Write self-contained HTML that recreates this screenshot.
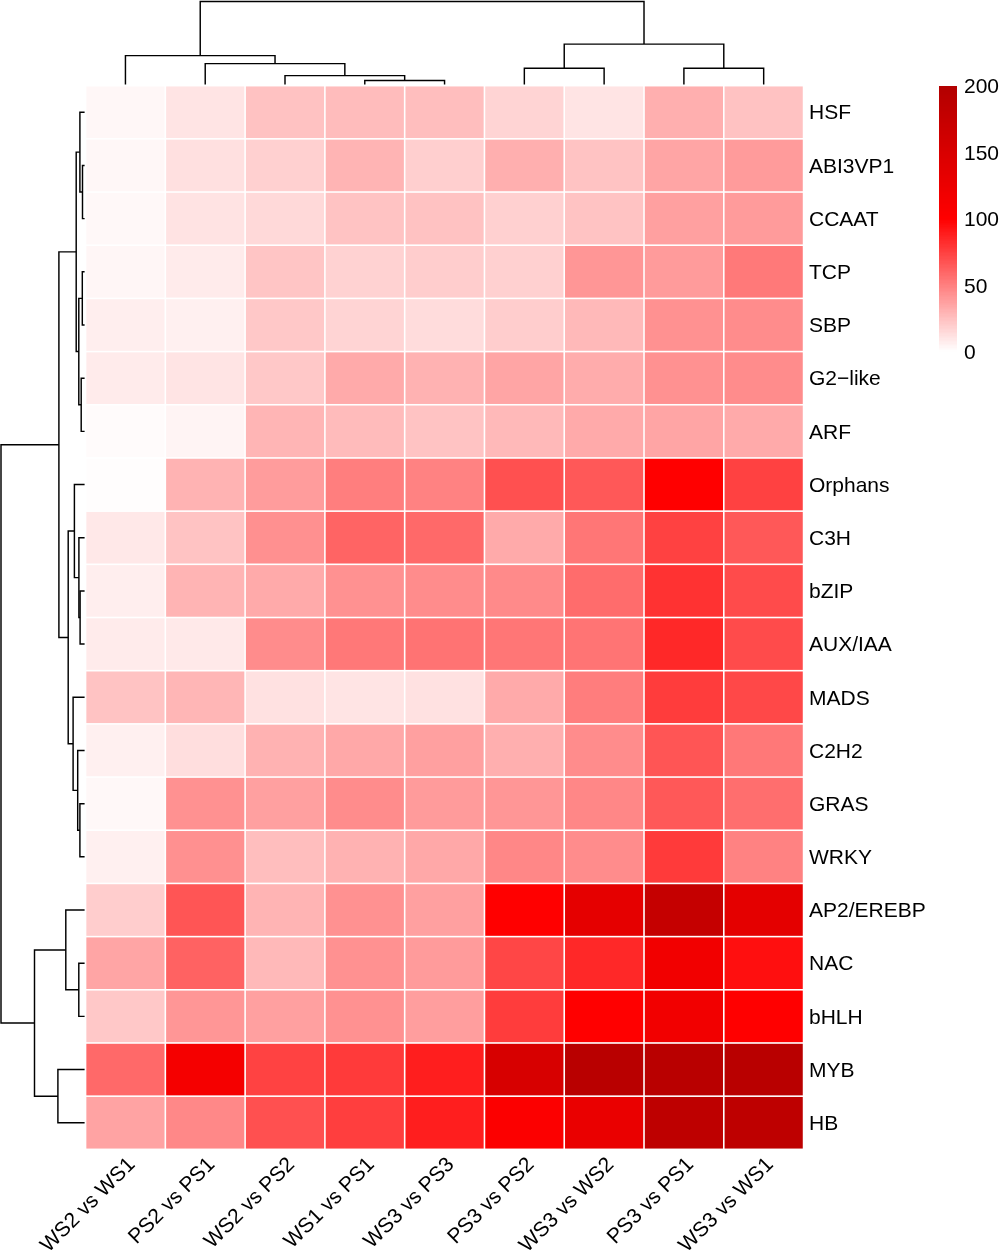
<!DOCTYPE html>
<html><head><meta charset="utf-8"><style>
html,body{margin:0;padding:0;background:#fff;}
svg{display:block;will-change:transform;}
text{font-family:"Liberation Sans",sans-serif;font-size:21px;fill:#000;}
</style></head><body>
<svg width="999" height="1251" viewBox="0 0 999 1251">
<g>
<rect x="86.35" y="86.45" width="78.18" height="51.59" fill="#fff7f7"/>
<rect x="166.13" y="86.45" width="78.18" height="51.59" fill="#ffe4e4"/>
<rect x="245.91" y="86.45" width="78.18" height="51.59" fill="#ffc2c2"/>
<rect x="325.69" y="86.45" width="78.18" height="51.59" fill="#ffbcbc"/>
<rect x="405.47" y="86.45" width="78.18" height="51.59" fill="#ffbebe"/>
<rect x="485.25" y="86.45" width="78.18" height="51.59" fill="#ffd4d4"/>
<rect x="565.03" y="86.45" width="78.18" height="51.59" fill="#ffe4e4"/>
<rect x="644.81" y="86.45" width="78.18" height="51.59" fill="#ffafaf"/>
<rect x="724.59" y="86.45" width="78.18" height="51.59" fill="#ffc2c2"/>
<rect x="86.35" y="139.64" width="78.18" height="51.59" fill="#fff7f7"/>
<rect x="166.13" y="139.64" width="78.18" height="51.59" fill="#ffe0e0"/>
<rect x="245.91" y="139.64" width="78.18" height="51.59" fill="#ffd0d0"/>
<rect x="325.69" y="139.64" width="78.18" height="51.59" fill="#ffb4b4"/>
<rect x="405.47" y="139.64" width="78.18" height="51.59" fill="#ffcfcf"/>
<rect x="485.25" y="139.64" width="78.18" height="51.59" fill="#ffafaf"/>
<rect x="565.03" y="139.64" width="78.18" height="51.59" fill="#ffc3c3"/>
<rect x="644.81" y="139.64" width="78.18" height="51.59" fill="#ffa5a5"/>
<rect x="724.59" y="139.64" width="78.18" height="51.59" fill="#ff9b9b"/>
<rect x="86.35" y="192.82" width="78.18" height="51.59" fill="#fff8f8"/>
<rect x="166.13" y="192.82" width="78.18" height="51.59" fill="#ffe3e3"/>
<rect x="245.91" y="192.82" width="78.18" height="51.59" fill="#ffd9d9"/>
<rect x="325.69" y="192.82" width="78.18" height="51.59" fill="#ffc3c3"/>
<rect x="405.47" y="192.82" width="78.18" height="51.59" fill="#ffc2c2"/>
<rect x="485.25" y="192.82" width="78.18" height="51.59" fill="#ffd0d0"/>
<rect x="565.03" y="192.82" width="78.18" height="51.59" fill="#ffc3c3"/>
<rect x="644.81" y="192.82" width="78.18" height="51.59" fill="#ffa0a0"/>
<rect x="724.59" y="192.82" width="78.18" height="51.59" fill="#ff9b9b"/>
<rect x="86.35" y="246.01" width="78.18" height="51.59" fill="#fff6f6"/>
<rect x="166.13" y="246.01" width="78.18" height="51.59" fill="#ffebeb"/>
<rect x="245.91" y="246.01" width="78.18" height="51.59" fill="#ffc5c5"/>
<rect x="325.69" y="246.01" width="78.18" height="51.59" fill="#ffd2d2"/>
<rect x="405.47" y="246.01" width="78.18" height="51.59" fill="#ffcdcd"/>
<rect x="485.25" y="246.01" width="78.18" height="51.59" fill="#ffd0d0"/>
<rect x="565.03" y="246.01" width="78.18" height="51.59" fill="#ff9696"/>
<rect x="644.81" y="246.01" width="78.18" height="51.59" fill="#ff9b9b"/>
<rect x="724.59" y="246.01" width="78.18" height="51.59" fill="#ff7979"/>
<rect x="86.35" y="299.19" width="78.18" height="51.59" fill="#ffeeee"/>
<rect x="166.13" y="299.19" width="78.18" height="51.59" fill="#fff0f0"/>
<rect x="245.91" y="299.19" width="78.18" height="51.59" fill="#ffc8c8"/>
<rect x="325.69" y="299.19" width="78.18" height="51.59" fill="#ffd4d4"/>
<rect x="405.47" y="299.19" width="78.18" height="51.59" fill="#ffdcdc"/>
<rect x="485.25" y="299.19" width="78.18" height="51.59" fill="#ffcdcd"/>
<rect x="565.03" y="299.19" width="78.18" height="51.59" fill="#ffb9b9"/>
<rect x="644.81" y="299.19" width="78.18" height="51.59" fill="#ff9191"/>
<rect x="724.59" y="299.19" width="78.18" height="51.59" fill="#ff8c8c"/>
<rect x="86.35" y="352.38" width="78.18" height="51.59" fill="#ffebeb"/>
<rect x="166.13" y="352.38" width="78.18" height="51.59" fill="#ffe4e4"/>
<rect x="245.91" y="352.38" width="78.18" height="51.59" fill="#ffc8c8"/>
<rect x="325.69" y="352.38" width="78.18" height="51.59" fill="#ffaaaa"/>
<rect x="405.47" y="352.38" width="78.18" height="51.59" fill="#ffb2b2"/>
<rect x="485.25" y="352.38" width="78.18" height="51.59" fill="#ffa5a5"/>
<rect x="565.03" y="352.38" width="78.18" height="51.59" fill="#ffacac"/>
<rect x="644.81" y="352.38" width="78.18" height="51.59" fill="#ff9191"/>
<rect x="724.59" y="352.38" width="78.18" height="51.59" fill="#ff8c8c"/>
<rect x="86.35" y="405.56" width="78.18" height="51.59" fill="#fffbfb"/>
<rect x="166.13" y="405.56" width="78.18" height="51.59" fill="#fff4f4"/>
<rect x="245.91" y="405.56" width="78.18" height="51.59" fill="#ffb5b5"/>
<rect x="325.69" y="405.56" width="78.18" height="51.59" fill="#ffbbbb"/>
<rect x="405.47" y="405.56" width="78.18" height="51.59" fill="#ffc3c3"/>
<rect x="485.25" y="405.56" width="78.18" height="51.59" fill="#ffb9b9"/>
<rect x="565.03" y="405.56" width="78.18" height="51.59" fill="#ffaaaa"/>
<rect x="644.81" y="405.56" width="78.18" height="51.59" fill="#ffa5a5"/>
<rect x="724.59" y="405.56" width="78.18" height="51.59" fill="#ffaaaa"/>
<rect x="86.35" y="458.75" width="78.18" height="51.59" fill="#fffdfd"/>
<rect x="166.13" y="458.75" width="78.18" height="51.59" fill="#ffb3b3"/>
<rect x="245.91" y="458.75" width="78.18" height="51.59" fill="#ff9c9c"/>
<rect x="325.69" y="458.75" width="78.18" height="51.59" fill="#ff7e7e"/>
<rect x="405.47" y="458.75" width="78.18" height="51.59" fill="#ff8282"/>
<rect x="485.25" y="458.75" width="78.18" height="51.59" fill="#ff5050"/>
<rect x="565.03" y="458.75" width="78.18" height="51.59" fill="#ff5858"/>
<rect x="644.81" y="458.75" width="78.18" height="51.59" fill="#ff0000"/>
<rect x="724.59" y="458.75" width="78.18" height="51.59" fill="#ff4141"/>
<rect x="86.35" y="511.93" width="78.18" height="51.59" fill="#ffe8e8"/>
<rect x="166.13" y="511.93" width="78.18" height="51.59" fill="#ffc3c3"/>
<rect x="245.91" y="511.93" width="78.18" height="51.59" fill="#ff9090"/>
<rect x="325.69" y="511.93" width="78.18" height="51.59" fill="#ff6464"/>
<rect x="405.47" y="511.93" width="78.18" height="51.59" fill="#ff6969"/>
<rect x="485.25" y="511.93" width="78.18" height="51.59" fill="#ffaaaa"/>
<rect x="565.03" y="511.93" width="78.18" height="51.59" fill="#ff7676"/>
<rect x="644.81" y="511.93" width="78.18" height="51.59" fill="#ff4141"/>
<rect x="724.59" y="511.93" width="78.18" height="51.59" fill="#ff5858"/>
<rect x="86.35" y="565.12" width="78.18" height="51.59" fill="#ffeeee"/>
<rect x="166.13" y="565.12" width="78.18" height="51.59" fill="#ffb4b4"/>
<rect x="245.91" y="565.12" width="78.18" height="51.59" fill="#ffaaaa"/>
<rect x="325.69" y="565.12" width="78.18" height="51.59" fill="#ff9191"/>
<rect x="405.47" y="565.12" width="78.18" height="51.59" fill="#ff8c8c"/>
<rect x="485.25" y="565.12" width="78.18" height="51.59" fill="#ff8a8a"/>
<rect x="565.03" y="565.12" width="78.18" height="51.59" fill="#ff6c6c"/>
<rect x="644.81" y="565.12" width="78.18" height="51.59" fill="#ff3232"/>
<rect x="724.59" y="565.12" width="78.18" height="51.59" fill="#ff4b4b"/>
<rect x="86.35" y="618.30" width="78.18" height="51.59" fill="#ffebeb"/>
<rect x="166.13" y="618.30" width="78.18" height="51.59" fill="#ffe9e9"/>
<rect x="245.91" y="618.30" width="78.18" height="51.59" fill="#ff8c8c"/>
<rect x="325.69" y="618.30" width="78.18" height="51.59" fill="#ff7878"/>
<rect x="405.47" y="618.30" width="78.18" height="51.59" fill="#ff7373"/>
<rect x="485.25" y="618.30" width="78.18" height="51.59" fill="#ff7676"/>
<rect x="565.03" y="618.30" width="78.18" height="51.59" fill="#ff7474"/>
<rect x="644.81" y="618.30" width="78.18" height="51.59" fill="#ff2828"/>
<rect x="724.59" y="618.30" width="78.18" height="51.59" fill="#ff4b4b"/>
<rect x="86.35" y="671.49" width="78.18" height="51.59" fill="#ffc3c3"/>
<rect x="166.13" y="671.49" width="78.18" height="51.59" fill="#ffb6b6"/>
<rect x="245.91" y="671.49" width="78.18" height="51.59" fill="#ffe1e1"/>
<rect x="325.69" y="671.49" width="78.18" height="51.59" fill="#ffe4e4"/>
<rect x="405.47" y="671.49" width="78.18" height="51.59" fill="#ffe1e1"/>
<rect x="485.25" y="671.49" width="78.18" height="51.59" fill="#ffaaaa"/>
<rect x="565.03" y="671.49" width="78.18" height="51.59" fill="#ff7d7d"/>
<rect x="644.81" y="671.49" width="78.18" height="51.59" fill="#ff3c3c"/>
<rect x="724.59" y="671.49" width="78.18" height="51.59" fill="#ff4848"/>
<rect x="86.35" y="724.67" width="78.18" height="51.59" fill="#fff0f0"/>
<rect x="166.13" y="724.67" width="78.18" height="51.59" fill="#ffdede"/>
<rect x="245.91" y="724.67" width="78.18" height="51.59" fill="#ffb2b2"/>
<rect x="325.69" y="724.67" width="78.18" height="51.59" fill="#ffa8a8"/>
<rect x="405.47" y="724.67" width="78.18" height="51.59" fill="#ffa0a0"/>
<rect x="485.25" y="724.67" width="78.18" height="51.59" fill="#ffafaf"/>
<rect x="565.03" y="724.67" width="78.18" height="51.59" fill="#ff8c8c"/>
<rect x="644.81" y="724.67" width="78.18" height="51.59" fill="#ff5555"/>
<rect x="724.59" y="724.67" width="78.18" height="51.59" fill="#ff7878"/>
<rect x="86.35" y="777.85" width="78.18" height="51.59" fill="#fff8f8"/>
<rect x="166.13" y="777.85" width="78.18" height="51.59" fill="#ff9191"/>
<rect x="245.91" y="777.85" width="78.18" height="51.59" fill="#ffa0a0"/>
<rect x="325.69" y="777.85" width="78.18" height="51.59" fill="#ff8c8c"/>
<rect x="405.47" y="777.85" width="78.18" height="51.59" fill="#ff9b9b"/>
<rect x="485.25" y="777.85" width="78.18" height="51.59" fill="#ff9696"/>
<rect x="565.03" y="777.85" width="78.18" height="51.59" fill="#ff8787"/>
<rect x="644.81" y="777.85" width="78.18" height="51.59" fill="#ff5858"/>
<rect x="724.59" y="777.85" width="78.18" height="51.59" fill="#ff6e6e"/>
<rect x="86.35" y="831.04" width="78.18" height="51.59" fill="#fff0f0"/>
<rect x="166.13" y="831.04" width="78.18" height="51.59" fill="#ff9090"/>
<rect x="245.91" y="831.04" width="78.18" height="51.59" fill="#ffbebe"/>
<rect x="325.69" y="831.04" width="78.18" height="51.59" fill="#ffb2b2"/>
<rect x="405.47" y="831.04" width="78.18" height="51.59" fill="#ffa8a8"/>
<rect x="485.25" y="831.04" width="78.18" height="51.59" fill="#ff8787"/>
<rect x="565.03" y="831.04" width="78.18" height="51.59" fill="#ff8c8c"/>
<rect x="644.81" y="831.04" width="78.18" height="51.59" fill="#ff3a3a"/>
<rect x="724.59" y="831.04" width="78.18" height="51.59" fill="#ff8282"/>
<rect x="86.35" y="884.23" width="78.18" height="51.59" fill="#ffcdcd"/>
<rect x="166.13" y="884.23" width="78.18" height="51.59" fill="#ff5555"/>
<rect x="245.91" y="884.23" width="78.18" height="51.59" fill="#ffb4b4"/>
<rect x="325.69" y="884.23" width="78.18" height="51.59" fill="#ff9191"/>
<rect x="405.47" y="884.23" width="78.18" height="51.59" fill="#ffa0a0"/>
<rect x="485.25" y="884.23" width="78.18" height="51.59" fill="#ff0000"/>
<rect x="565.03" y="884.23" width="78.18" height="51.59" fill="#e50000"/>
<rect x="644.81" y="884.23" width="78.18" height="51.59" fill="#c50000"/>
<rect x="724.59" y="884.23" width="78.18" height="51.59" fill="#e40000"/>
<rect x="86.35" y="937.41" width="78.18" height="51.59" fill="#ffa5a5"/>
<rect x="166.13" y="937.41" width="78.18" height="51.59" fill="#ff6262"/>
<rect x="245.91" y="937.41" width="78.18" height="51.59" fill="#ffb9b9"/>
<rect x="325.69" y="937.41" width="78.18" height="51.59" fill="#ff9191"/>
<rect x="405.47" y="937.41" width="78.18" height="51.59" fill="#ff9b9b"/>
<rect x="485.25" y="937.41" width="78.18" height="51.59" fill="#ff4646"/>
<rect x="565.03" y="937.41" width="78.18" height="51.59" fill="#ff2828"/>
<rect x="644.81" y="937.41" width="78.18" height="51.59" fill="#f20000"/>
<rect x="724.59" y="937.41" width="78.18" height="51.59" fill="#ff0f0f"/>
<rect x="86.35" y="990.59" width="78.18" height="51.59" fill="#ffc8c8"/>
<rect x="166.13" y="990.59" width="78.18" height="51.59" fill="#ff9696"/>
<rect x="245.91" y="990.59" width="78.18" height="51.59" fill="#ffa0a0"/>
<rect x="325.69" y="990.59" width="78.18" height="51.59" fill="#ff9191"/>
<rect x="405.47" y="990.59" width="78.18" height="51.59" fill="#ff9e9e"/>
<rect x="485.25" y="990.59" width="78.18" height="51.59" fill="#ff3c3c"/>
<rect x="565.03" y="990.59" width="78.18" height="51.59" fill="#ff0000"/>
<rect x="644.81" y="990.59" width="78.18" height="51.59" fill="#f20000"/>
<rect x="724.59" y="990.59" width="78.18" height="51.59" fill="#ff0000"/>
<rect x="86.35" y="1043.78" width="78.18" height="51.59" fill="#ff6969"/>
<rect x="166.13" y="1043.78" width="78.18" height="51.59" fill="#f50000"/>
<rect x="245.91" y="1043.78" width="78.18" height="51.59" fill="#ff4242"/>
<rect x="325.69" y="1043.78" width="78.18" height="51.59" fill="#ff3a3a"/>
<rect x="405.47" y="1043.78" width="78.18" height="51.59" fill="#ff1e1e"/>
<rect x="485.25" y="1043.78" width="78.18" height="51.59" fill="#d70000"/>
<rect x="565.03" y="1043.78" width="78.18" height="51.59" fill="#b90000"/>
<rect x="644.81" y="1043.78" width="78.18" height="51.59" fill="#b90000"/>
<rect x="724.59" y="1043.78" width="78.18" height="51.59" fill="#b90000"/>
<rect x="86.35" y="1096.97" width="78.18" height="51.59" fill="#ffa3a3"/>
<rect x="166.13" y="1096.97" width="78.18" height="51.59" fill="#ff8888"/>
<rect x="245.91" y="1096.97" width="78.18" height="51.59" fill="#ff5050"/>
<rect x="325.69" y="1096.97" width="78.18" height="51.59" fill="#ff3e3e"/>
<rect x="405.47" y="1096.97" width="78.18" height="51.59" fill="#ff1e1e"/>
<rect x="485.25" y="1096.97" width="78.18" height="51.59" fill="#fc0000"/>
<rect x="565.03" y="1096.97" width="78.18" height="51.59" fill="#ea0000"/>
<rect x="644.81" y="1096.97" width="78.18" height="51.59" fill="#be0000"/>
<rect x="724.59" y="1096.97" width="78.18" height="51.59" fill="#be0000"/>
</g>
<g fill="none" stroke="#000" stroke-width="1.45">
<path d="M364.78,84.60V80.40H444.56V84.60"/>
<path d="M285.00,84.60V75.60H404.67V80.40"/>
<path d="M205.22,84.60V63.60H344.84V75.60"/>
<path d="M125.44,84.60V55.60H275.03V63.60"/>
<path d="M524.34,84.60V68.20H604.12V84.60"/>
<path d="M683.90,84.60V68.20H763.68V84.60"/>
<path d="M564.23,68.20V44.10H723.79V68.20"/>
<path d="M200.23,55.60V1.40H644.01V44.10"/>
<path d="M84.60,165.43H82.50V218.61H84.60"/>
<path d="M84.60,112.24H79.90V192.02H82.50"/>
<path d="M84.60,271.80H82.30V324.98H84.60"/>
<path d="M84.60,378.17H81.20V431.35H84.60"/>
<path d="M82.30,298.39H78.80V404.76H81.20"/>
<path d="M79.90,152.13H76.20V351.57H78.80"/>
<path d="M84.60,590.91H80.10V644.09H84.60"/>
<path d="M84.60,537.72H78.90V617.50H80.10"/>
<path d="M84.60,484.54H74.40V577.61H78.90"/>
<path d="M84.60,803.65H79.90V856.83H84.60"/>
<path d="M84.60,750.46H77.70V830.24H79.90"/>
<path d="M84.60,697.28H73.10V790.35H77.70"/>
<path d="M74.40,531.07H68.20V743.81H73.10"/>
<path d="M76.20,251.85H58.90V637.44H68.20"/>
<path d="M84.60,963.20H78.80V1016.39H84.60"/>
<path d="M84.60,910.02H65.80V989.80H78.80"/>
<path d="M84.60,1069.57H57.90V1122.76H84.60"/>
<path d="M65.80,949.91H34.50V1096.16H57.90"/>
<path d="M58.90,444.65H1.00V1023.04H34.50"/>
</g>
<g shape-rendering="crispEdges">
<rect x="939.2" y="85.80" width="17.9" height="1.63" fill="#b20000"/>
<rect x="939.2" y="87.13" width="17.9" height="1.63" fill="#b30000"/>
<rect x="939.2" y="88.46" width="17.9" height="1.63" fill="#b40000"/>
<rect x="939.2" y="89.79" width="17.9" height="1.63" fill="#b50000"/>
<rect x="939.2" y="91.12" width="17.9" height="1.63" fill="#b50000"/>
<rect x="939.2" y="92.45" width="17.9" height="1.63" fill="#b60000"/>
<rect x="939.2" y="93.78" width="17.9" height="1.63" fill="#b70000"/>
<rect x="939.2" y="95.11" width="17.9" height="1.63" fill="#b80000"/>
<rect x="939.2" y="96.44" width="17.9" height="1.63" fill="#b90000"/>
<rect x="939.2" y="97.77" width="17.9" height="1.63" fill="#b90000"/>
<rect x="939.2" y="99.09" width="17.9" height="1.63" fill="#ba0000"/>
<rect x="939.2" y="100.42" width="17.9" height="1.63" fill="#bb0000"/>
<rect x="939.2" y="101.75" width="17.9" height="1.63" fill="#bc0000"/>
<rect x="939.2" y="103.08" width="17.9" height="1.63" fill="#bc0000"/>
<rect x="939.2" y="104.41" width="17.9" height="1.63" fill="#bd0000"/>
<rect x="939.2" y="105.74" width="17.9" height="1.63" fill="#be0000"/>
<rect x="939.2" y="107.07" width="17.9" height="1.63" fill="#bf0000"/>
<rect x="939.2" y="108.40" width="17.9" height="1.63" fill="#bf0000"/>
<rect x="939.2" y="109.73" width="17.9" height="1.63" fill="#c00000"/>
<rect x="939.2" y="111.06" width="17.9" height="1.63" fill="#c10000"/>
<rect x="939.2" y="112.39" width="17.9" height="1.63" fill="#c20000"/>
<rect x="939.2" y="113.72" width="17.9" height="1.63" fill="#c30000"/>
<rect x="939.2" y="115.05" width="17.9" height="1.63" fill="#c30000"/>
<rect x="939.2" y="116.38" width="17.9" height="1.63" fill="#c40000"/>
<rect x="939.2" y="117.71" width="17.9" height="1.63" fill="#c50000"/>
<rect x="939.2" y="119.04" width="17.9" height="1.63" fill="#c60000"/>
<rect x="939.2" y="120.37" width="17.9" height="1.63" fill="#c60000"/>
<rect x="939.2" y="121.70" width="17.9" height="1.63" fill="#c70000"/>
<rect x="939.2" y="123.03" width="17.9" height="1.63" fill="#c80000"/>
<rect x="939.2" y="124.36" width="17.9" height="1.63" fill="#c90000"/>
<rect x="939.2" y="125.69" width="17.9" height="1.63" fill="#c90000"/>
<rect x="939.2" y="127.01" width="17.9" height="1.63" fill="#ca0000"/>
<rect x="939.2" y="128.34" width="17.9" height="1.63" fill="#cb0000"/>
<rect x="939.2" y="129.67" width="17.9" height="1.63" fill="#cc0000"/>
<rect x="939.2" y="131.00" width="17.9" height="1.63" fill="#cd0000"/>
<rect x="939.2" y="132.33" width="17.9" height="1.63" fill="#cd0000"/>
<rect x="939.2" y="133.66" width="17.9" height="1.63" fill="#ce0000"/>
<rect x="939.2" y="134.99" width="17.9" height="1.63" fill="#cf0000"/>
<rect x="939.2" y="136.32" width="17.9" height="1.63" fill="#d00000"/>
<rect x="939.2" y="137.65" width="17.9" height="1.63" fill="#d00000"/>
<rect x="939.2" y="138.98" width="17.9" height="1.63" fill="#d10000"/>
<rect x="939.2" y="140.31" width="17.9" height="1.63" fill="#d20000"/>
<rect x="939.2" y="141.64" width="17.9" height="1.63" fill="#d30000"/>
<rect x="939.2" y="142.97" width="17.9" height="1.63" fill="#d30000"/>
<rect x="939.2" y="144.30" width="17.9" height="1.63" fill="#d40000"/>
<rect x="939.2" y="145.63" width="17.9" height="1.63" fill="#d50000"/>
<rect x="939.2" y="146.96" width="17.9" height="1.63" fill="#d60000"/>
<rect x="939.2" y="148.29" width="17.9" height="1.63" fill="#d70000"/>
<rect x="939.2" y="149.62" width="17.9" height="1.63" fill="#d70000"/>
<rect x="939.2" y="150.95" width="17.9" height="1.63" fill="#d80000"/>
<rect x="939.2" y="152.27" width="17.9" height="1.63" fill="#d90000"/>
<rect x="939.2" y="153.60" width="17.9" height="1.63" fill="#da0000"/>
<rect x="939.2" y="154.93" width="17.9" height="1.63" fill="#da0000"/>
<rect x="939.2" y="156.26" width="17.9" height="1.63" fill="#db0000"/>
<rect x="939.2" y="157.59" width="17.9" height="1.63" fill="#dc0000"/>
<rect x="939.2" y="158.92" width="17.9" height="1.63" fill="#dd0000"/>
<rect x="939.2" y="160.25" width="17.9" height="1.63" fill="#de0000"/>
<rect x="939.2" y="161.58" width="17.9" height="1.63" fill="#de0000"/>
<rect x="939.2" y="162.91" width="17.9" height="1.63" fill="#df0000"/>
<rect x="939.2" y="164.24" width="17.9" height="1.63" fill="#e00000"/>
<rect x="939.2" y="165.57" width="17.9" height="1.63" fill="#e10000"/>
<rect x="939.2" y="166.90" width="17.9" height="1.63" fill="#e10000"/>
<rect x="939.2" y="168.23" width="17.9" height="1.63" fill="#e20000"/>
<rect x="939.2" y="169.56" width="17.9" height="1.63" fill="#e30000"/>
<rect x="939.2" y="170.89" width="17.9" height="1.63" fill="#e40000"/>
<rect x="939.2" y="172.22" width="17.9" height="1.63" fill="#e40000"/>
<rect x="939.2" y="173.55" width="17.9" height="1.63" fill="#e50000"/>
<rect x="939.2" y="174.88" width="17.9" height="1.63" fill="#e60000"/>
<rect x="939.2" y="176.21" width="17.9" height="1.63" fill="#e70000"/>
<rect x="939.2" y="177.54" width="17.9" height="1.63" fill="#e80000"/>
<rect x="939.2" y="178.87" width="17.9" height="1.63" fill="#e80000"/>
<rect x="939.2" y="180.19" width="17.9" height="1.63" fill="#e90000"/>
<rect x="939.2" y="181.52" width="17.9" height="1.63" fill="#ea0000"/>
<rect x="939.2" y="182.85" width="17.9" height="1.63" fill="#eb0000"/>
<rect x="939.2" y="184.18" width="17.9" height="1.63" fill="#eb0000"/>
<rect x="939.2" y="185.51" width="17.9" height="1.63" fill="#ec0000"/>
<rect x="939.2" y="186.84" width="17.9" height="1.63" fill="#ed0000"/>
<rect x="939.2" y="188.17" width="17.9" height="1.63" fill="#ee0000"/>
<rect x="939.2" y="189.50" width="17.9" height="1.63" fill="#ee0000"/>
<rect x="939.2" y="190.83" width="17.9" height="1.63" fill="#ef0000"/>
<rect x="939.2" y="192.16" width="17.9" height="1.63" fill="#f00000"/>
<rect x="939.2" y="193.49" width="17.9" height="1.63" fill="#f10000"/>
<rect x="939.2" y="194.82" width="17.9" height="1.63" fill="#f20000"/>
<rect x="939.2" y="196.15" width="17.9" height="1.63" fill="#f20000"/>
<rect x="939.2" y="197.48" width="17.9" height="1.63" fill="#f30000"/>
<rect x="939.2" y="198.81" width="17.9" height="1.63" fill="#f40000"/>
<rect x="939.2" y="200.14" width="17.9" height="1.63" fill="#f50000"/>
<rect x="939.2" y="201.47" width="17.9" height="1.63" fill="#f50000"/>
<rect x="939.2" y="202.80" width="17.9" height="1.63" fill="#f60000"/>
<rect x="939.2" y="204.13" width="17.9" height="1.63" fill="#f70000"/>
<rect x="939.2" y="205.45" width="17.9" height="1.63" fill="#f80000"/>
<rect x="939.2" y="206.78" width="17.9" height="1.63" fill="#f80000"/>
<rect x="939.2" y="208.11" width="17.9" height="1.63" fill="#f90000"/>
<rect x="939.2" y="209.44" width="17.9" height="1.63" fill="#fa0000"/>
<rect x="939.2" y="210.77" width="17.9" height="1.63" fill="#fb0000"/>
<rect x="939.2" y="212.10" width="17.9" height="1.63" fill="#fc0000"/>
<rect x="939.2" y="213.43" width="17.9" height="1.63" fill="#fc0000"/>
<rect x="939.2" y="214.76" width="17.9" height="1.63" fill="#fd0000"/>
<rect x="939.2" y="216.09" width="17.9" height="1.63" fill="#fe0000"/>
<rect x="939.2" y="217.42" width="17.9" height="1.63" fill="#ff0000"/>
<rect x="939.2" y="218.75" width="17.9" height="1.63" fill="#ff0101"/>
<rect x="939.2" y="220.08" width="17.9" height="1.63" fill="#ff0404"/>
<rect x="939.2" y="221.41" width="17.9" height="1.63" fill="#ff0606"/>
<rect x="939.2" y="222.74" width="17.9" height="1.63" fill="#ff0909"/>
<rect x="939.2" y="224.07" width="17.9" height="1.63" fill="#ff0b0b"/>
<rect x="939.2" y="225.40" width="17.9" height="1.63" fill="#ff0e0e"/>
<rect x="939.2" y="226.73" width="17.9" height="1.63" fill="#ff1111"/>
<rect x="939.2" y="228.06" width="17.9" height="1.63" fill="#ff1313"/>
<rect x="939.2" y="229.39" width="17.9" height="1.63" fill="#ff1616"/>
<rect x="939.2" y="230.72" width="17.9" height="1.63" fill="#ff1818"/>
<rect x="939.2" y="232.04" width="17.9" height="1.63" fill="#ff1b1b"/>
<rect x="939.2" y="233.37" width="17.9" height="1.63" fill="#ff1d1d"/>
<rect x="939.2" y="234.70" width="17.9" height="1.63" fill="#ff2020"/>
<rect x="939.2" y="236.03" width="17.9" height="1.63" fill="#ff2222"/>
<rect x="939.2" y="237.36" width="17.9" height="1.63" fill="#ff2525"/>
<rect x="939.2" y="238.69" width="17.9" height="1.63" fill="#ff2828"/>
<rect x="939.2" y="240.02" width="17.9" height="1.63" fill="#ff2a2a"/>
<rect x="939.2" y="241.35" width="17.9" height="1.63" fill="#ff2d2d"/>
<rect x="939.2" y="242.68" width="17.9" height="1.63" fill="#ff2f2f"/>
<rect x="939.2" y="244.01" width="17.9" height="1.63" fill="#ff3232"/>
<rect x="939.2" y="245.34" width="17.9" height="1.63" fill="#ff3434"/>
<rect x="939.2" y="246.67" width="17.9" height="1.63" fill="#ff3737"/>
<rect x="939.2" y="248.00" width="17.9" height="1.63" fill="#ff3939"/>
<rect x="939.2" y="249.33" width="17.9" height="1.63" fill="#ff3c3c"/>
<rect x="939.2" y="250.66" width="17.9" height="1.63" fill="#ff3e3e"/>
<rect x="939.2" y="251.99" width="17.9" height="1.63" fill="#ff4141"/>
<rect x="939.2" y="253.32" width="17.9" height="1.63" fill="#ff4444"/>
<rect x="939.2" y="254.65" width="17.9" height="1.63" fill="#ff4646"/>
<rect x="939.2" y="255.98" width="17.9" height="1.63" fill="#ff4949"/>
<rect x="939.2" y="257.31" width="17.9" height="1.63" fill="#ff4b4b"/>
<rect x="939.2" y="258.63" width="17.9" height="1.63" fill="#ff4e4e"/>
<rect x="939.2" y="259.96" width="17.9" height="1.63" fill="#ff5050"/>
<rect x="939.2" y="261.29" width="17.9" height="1.63" fill="#ff5353"/>
<rect x="939.2" y="262.62" width="17.9" height="1.63" fill="#ff5555"/>
<rect x="939.2" y="263.95" width="17.9" height="1.63" fill="#ff5858"/>
<rect x="939.2" y="265.28" width="17.9" height="1.63" fill="#ff5b5b"/>
<rect x="939.2" y="266.61" width="17.9" height="1.63" fill="#ff5d5d"/>
<rect x="939.2" y="267.94" width="17.9" height="1.63" fill="#ff6060"/>
<rect x="939.2" y="269.27" width="17.9" height="1.63" fill="#ff6262"/>
<rect x="939.2" y="270.60" width="17.9" height="1.63" fill="#ff6565"/>
<rect x="939.2" y="271.93" width="17.9" height="1.63" fill="#ff6767"/>
<rect x="939.2" y="273.26" width="17.9" height="1.63" fill="#ff6a6a"/>
<rect x="939.2" y="274.59" width="17.9" height="1.63" fill="#ff6c6c"/>
<rect x="939.2" y="275.92" width="17.9" height="1.63" fill="#ff6f6f"/>
<rect x="939.2" y="277.25" width="17.9" height="1.63" fill="#ff7171"/>
<rect x="939.2" y="278.58" width="17.9" height="1.63" fill="#ff7474"/>
<rect x="939.2" y="279.91" width="17.9" height="1.63" fill="#ff7777"/>
<rect x="939.2" y="281.24" width="17.9" height="1.63" fill="#ff7979"/>
<rect x="939.2" y="282.57" width="17.9" height="1.63" fill="#ff7c7c"/>
<rect x="939.2" y="283.90" width="17.9" height="1.63" fill="#ff7e7e"/>
<rect x="939.2" y="285.23" width="17.9" height="1.63" fill="#ff8181"/>
<rect x="939.2" y="286.55" width="17.9" height="1.63" fill="#ff8383"/>
<rect x="939.2" y="287.88" width="17.9" height="1.63" fill="#ff8686"/>
<rect x="939.2" y="289.21" width="17.9" height="1.63" fill="#ff8888"/>
<rect x="939.2" y="290.54" width="17.9" height="1.63" fill="#ff8b8b"/>
<rect x="939.2" y="291.87" width="17.9" height="1.63" fill="#ff8e8e"/>
<rect x="939.2" y="293.20" width="17.9" height="1.63" fill="#ff9090"/>
<rect x="939.2" y="294.53" width="17.9" height="1.63" fill="#ff9393"/>
<rect x="939.2" y="295.86" width="17.9" height="1.63" fill="#ff9595"/>
<rect x="939.2" y="297.19" width="17.9" height="1.63" fill="#ff9898"/>
<rect x="939.2" y="298.52" width="17.9" height="1.63" fill="#ff9a9a"/>
<rect x="939.2" y="299.85" width="17.9" height="1.63" fill="#ff9d9d"/>
<rect x="939.2" y="301.18" width="17.9" height="1.63" fill="#ff9f9f"/>
<rect x="939.2" y="302.51" width="17.9" height="1.63" fill="#ffa2a2"/>
<rect x="939.2" y="303.84" width="17.9" height="1.63" fill="#ffa4a4"/>
<rect x="939.2" y="305.17" width="17.9" height="1.63" fill="#ffa7a7"/>
<rect x="939.2" y="306.50" width="17.9" height="1.63" fill="#ffaaaa"/>
<rect x="939.2" y="307.83" width="17.9" height="1.63" fill="#ffacac"/>
<rect x="939.2" y="309.16" width="17.9" height="1.63" fill="#ffafaf"/>
<rect x="939.2" y="310.49" width="17.9" height="1.63" fill="#ffb1b1"/>
<rect x="939.2" y="311.81" width="17.9" height="1.63" fill="#ffb4b4"/>
<rect x="939.2" y="313.14" width="17.9" height="1.63" fill="#ffb6b6"/>
<rect x="939.2" y="314.47" width="17.9" height="1.63" fill="#ffb9b9"/>
<rect x="939.2" y="315.80" width="17.9" height="1.63" fill="#ffbbbb"/>
<rect x="939.2" y="317.13" width="17.9" height="1.63" fill="#ffbebe"/>
<rect x="939.2" y="318.46" width="17.9" height="1.63" fill="#ffc1c1"/>
<rect x="939.2" y="319.79" width="17.9" height="1.63" fill="#ffc3c3"/>
<rect x="939.2" y="321.12" width="17.9" height="1.63" fill="#ffc6c6"/>
<rect x="939.2" y="322.45" width="17.9" height="1.63" fill="#ffc8c8"/>
<rect x="939.2" y="323.78" width="17.9" height="1.63" fill="#ffcbcb"/>
<rect x="939.2" y="325.11" width="17.9" height="1.63" fill="#ffcdcd"/>
<rect x="939.2" y="326.44" width="17.9" height="1.63" fill="#ffd0d0"/>
<rect x="939.2" y="327.77" width="17.9" height="1.63" fill="#ffd2d2"/>
<rect x="939.2" y="329.10" width="17.9" height="1.63" fill="#ffd5d5"/>
<rect x="939.2" y="330.43" width="17.9" height="1.63" fill="#ffd7d7"/>
<rect x="939.2" y="331.76" width="17.9" height="1.63" fill="#ffdada"/>
<rect x="939.2" y="333.09" width="17.9" height="1.63" fill="#ffdddd"/>
<rect x="939.2" y="334.42" width="17.9" height="1.63" fill="#ffdfdf"/>
<rect x="939.2" y="335.75" width="17.9" height="1.63" fill="#ffe2e2"/>
<rect x="939.2" y="337.08" width="17.9" height="1.63" fill="#ffe4e4"/>
<rect x="939.2" y="338.40" width="17.9" height="1.63" fill="#ffe7e7"/>
<rect x="939.2" y="339.73" width="17.9" height="1.63" fill="#ffe9e9"/>
<rect x="939.2" y="341.06" width="17.9" height="1.63" fill="#ffecec"/>
<rect x="939.2" y="342.39" width="17.9" height="1.63" fill="#ffeeee"/>
<rect x="939.2" y="343.72" width="17.9" height="1.63" fill="#fff1f1"/>
<rect x="939.2" y="345.05" width="17.9" height="1.63" fill="#fff4f4"/>
<rect x="939.2" y="346.38" width="17.9" height="1.63" fill="#fff6f6"/>
<rect x="939.2" y="347.71" width="17.9" height="1.63" fill="#fff9f9"/>
<rect x="939.2" y="349.04" width="17.9" height="1.63" fill="#fffbfb"/>
<rect x="939.2" y="350.37" width="17.9" height="1.63" fill="#fffefe"/>
</g>
<text x="809" y="112.24" dy="0.345em">HSF</text>
<text x="809" y="165.43" dy="0.345em">ABI3VP1</text>
<text x="809" y="218.61" dy="0.345em">CCAAT</text>
<text x="809" y="271.80" dy="0.345em">TCP</text>
<text x="809" y="324.98" dy="0.345em">SBP</text>
<text x="809" y="378.17" dy="0.345em">G2−like</text>
<text x="809" y="431.35" dy="0.345em">ARF</text>
<text x="809" y="484.54" dy="0.345em">Orphans</text>
<text x="809" y="537.72" dy="0.345em">C3H</text>
<text x="809" y="590.91" dy="0.345em">bZIP</text>
<text x="809" y="644.09" dy="0.345em">AUX/IAA</text>
<text x="809" y="697.28" dy="0.345em">MADS</text>
<text x="809" y="750.46" dy="0.345em">C2H2</text>
<text x="809" y="803.65" dy="0.345em">GRAS</text>
<text x="809" y="856.83" dy="0.345em">WRKY</text>
<text x="809" y="910.02" dy="0.345em">AP2/EREBP</text>
<text x="809" y="963.20" dy="0.345em">NAC</text>
<text x="809" y="1016.39" dy="0.345em">bHLH</text>
<text x="809" y="1069.57" dy="0.345em">MYB</text>
<text x="809" y="1122.76" dy="0.345em">HB</text>
<text transform="translate(125.44,1155.00) rotate(-45)" text-anchor="end" dy="0.71em">WS2 vs WS1</text>
<text transform="translate(205.22,1155.00) rotate(-45)" text-anchor="end" dy="0.71em">PS2 vs PS1</text>
<text transform="translate(285.00,1155.00) rotate(-45)" text-anchor="end" dy="0.71em">WS2 vs PS2</text>
<text transform="translate(364.78,1155.00) rotate(-45)" text-anchor="end" dy="0.71em">WS1 vs PS1</text>
<text transform="translate(444.56,1155.00) rotate(-45)" text-anchor="end" dy="0.71em">WS3 vs PS3</text>
<text transform="translate(524.34,1155.00) rotate(-45)" text-anchor="end" dy="0.71em">PS3 vs PS2</text>
<text transform="translate(604.12,1155.00) rotate(-45)" text-anchor="end" dy="0.71em">WS3 vs WS2</text>
<text transform="translate(683.90,1155.00) rotate(-45)" text-anchor="end" dy="0.71em">PS3 vs PS1</text>
<text transform="translate(763.68,1155.00) rotate(-45)" text-anchor="end" dy="0.71em">WS3 vs WS1</text>
<text x="964" y="85.80" dy="0.355em">200</text>
<text x="964" y="152.27" dy="0.355em">150</text>
<text x="964" y="218.75" dy="0.355em">100</text>
<text x="964" y="285.23" dy="0.355em">50</text>
<text x="964" y="351.70" dy="0.355em">0</text>

</svg>
</body></html>
